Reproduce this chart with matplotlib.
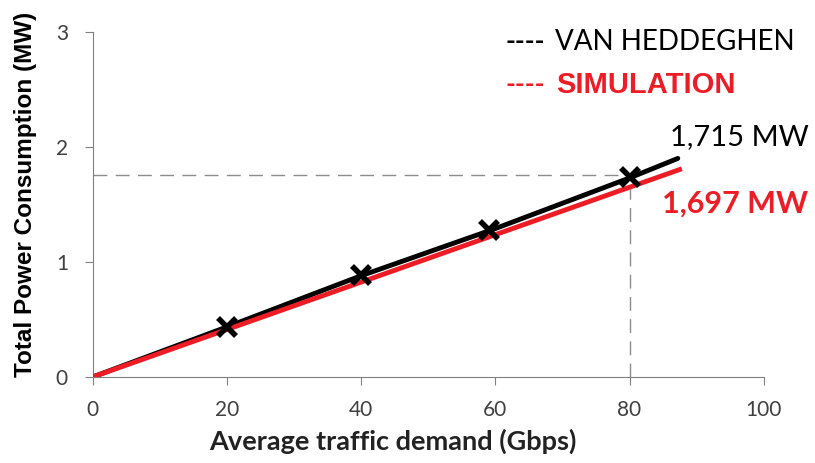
import matplotlib.pyplot as plt

# data
traffic = [0, 20, 40, 60, 80, 87.2]
van_heddeghen = [0, 0.435, 0.88, 1.29, 1.73, 1.90]
sim_traffic = [0, 87.8]
simulation = [0, 1.81]
marker_x = [20, 40, 59, 80]
marker_y = [0.435, 0.89, 1.28, 1.74]
ref_x = 80
ref_y = 1.76

x_ticks = [0, 20, 40, 60, 80, 100]
y_ticks = [0, 1, 2, 3]

fig = plt.figure(figsize=(8.15, 4.63), dpi=100)
ax = fig.add_axes([0.114, 0.186, 0.823, 0.745])

# dashed reference lines
ax.plot([0, ref_x], [ref_y, ref_y], color='#8c8c8c', lw=1, dashes=(10, 6))
ax.plot([ref_x, ref_x], [0, ref_y], color='#8c8c8c', lw=1, dashes=(10, 6))

ax.plot(traffic, van_heddeghen, color='black', lw=3.5, solid_capstyle='round', zorder=3)
ax.plot(sim_traffic, simulation, color='#ee1c25', lw=3.5, solid_capstyle='butt', zorder=4)
ax.plot(marker_x, marker_y, ls='none', marker='x', ms=13, mew=4, color='black', zorder=5)

ax.set_xlim(0, 100)
ax.set_ylim(0, 3)
ax.set_xticks(x_ticks)
ax.set_yticks(y_ticks)
for s in ['top', 'right']:
    ax.spines[s].set_visible(False)
for s in ['left', 'bottom']:
    ax.spines[s].set_color('#808080')
ax.tick_params(colors='#808080', length=6, labelcolor='#404040', labelsize=15)
for lab in ax.get_xticklabels() + ax.get_yticklabels():
    lab.set_family('Lato')
ax.tick_params(axis='x', pad=11)
ax.tick_params(axis='y', pad=12)

ax.set_xlabel('Average traffic demand (Gbps)', fontsize=19.5, fontweight='bold',
              family='Lato', color='#222222', labelpad=8)
ax.xaxis.set_label_coords(0.447, -0.15)
ax.set_ylabel('Total Power Consumption (MW)', fontsize=17.5, fontweight='bold',
              family='Liberation Sans', labelpad=8)
ax.yaxis.set_label_coords(-0.083, 0.53)

# legend as text
fig.text(0.620, 0.909, '----', fontsize=19, fontweight='bold', family='Lato', color='black', va='center')
fig.text(0.681, 0.909, 'VAN HEDDEGHEN', fontsize=20, family='Lato', va='center')
fig.text(0.620, 0.816, '----', fontsize=19, fontweight='bold', family='Lato', color='#ee1c25', va='center')
fig.text(0.682, 0.816, 'SIMULATION', fontsize=21, fontweight='bold', family='Liberation Sans',
         color='#ee1c25', va='center')

fig.text(0.822, 0.705, '1,715 MW', fontsize=21, family='Lato', va='center')
fig.text(0.812, 0.561, '1,697 MW', fontsize=22, fontweight='bold', family='Lato',
         color='#ee1c25', va='center')

fig.savefig('out.png', dpi=100)
